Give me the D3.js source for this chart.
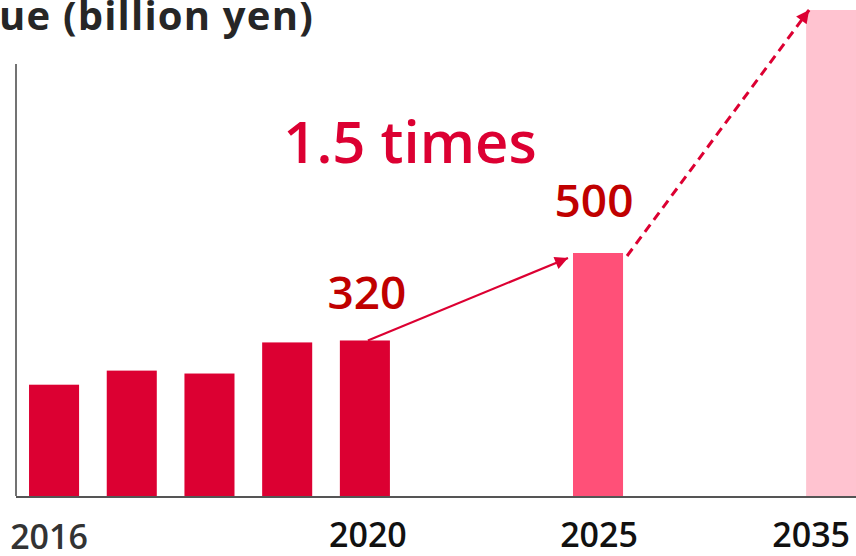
<!DOCTYPE html>
<html>
<head>
<meta charset="utf-8">
<script src="https://cdn.jsdelivr.net/npm/d3@7"></script>
<style>
  html, body { margin: 0; padding: 0; background: #fff; overflow: hidden; }
  svg { display: block; }
</style>
</head>
<body>
<script>
// ---- data ----
const categories = ["2016", "2017", "2018", "2019", "2020", "2025", "2035"];
const values = [229, 258, 252, 316, 320, 500, 1000];
const barColors = ["#DC0032", "#DC0032", "#DC0032", "#DC0032", "#DC0032", "#FF5078", "#FFC3D0"];
const tickLabels = ["2016", "2020", "2025", "2035"];
const valueLabelYears = ["2020", "2025"];
const valueLabelTexts = ["320", "500"];
const titleText = "ue (billion yen)";
const growthText = "1.5 times";

// ---- layout ----
const W = 856, H = 556;
const slots = ["2016", "2017", "2018", "2019", "2020", "_a", "_b", "2025", "_c", "_d", "2035"];

const svg = d3.select("body").append("svg").attr("width", W).attr("height", H);

const x = d3.scaleBand().domain(slots).range([15.2, 870]).paddingInner(0.356).paddingOuter(0.178);
const y = d3.scaleLinear().domain([0, 1000]).range([496, 10]);
const bw = x.bandwidth();

const FONT = "'Open Sans', 'Noto Sans', sans-serif";

// title
svg.append("text")
  .attr("x", -1).attr("y", 30)
  .attr("font-family", FONT).attr("font-weight", 700).attr("font-size", 40)
  .attr("letter-spacing", 1.2)
  .attr("fill", "#262626")
  .text(titleText);

// bars
svg.append("g").selectAll("rect")
  .data(categories.map((c, i) => ({ c, v: values[i], col: barColors[i] })))
  .join("rect")
  .attr("x", d => x(d.c))
  .attr("y", d => y(d.v))
  .attr("width", bw)
  .attr("height", d => y(0) - y(d.v))
  .attr("fill", d => d.col);

// axes lines
svg.append("line")
  .attr("x1", 16).attr("x2", 16)
  .attr("y1", y(0)).attr("y2", 64)
  .attr("stroke", "#444").attr("stroke-width", 1.5);
svg.append("line")
  .attr("x1", 16).attr("x2", W)
  .attr("y1", y(0) + 1).attr("y2", y(0) + 1)
  .attr("stroke", "#555").attr("stroke-width", 2);

// tick labels
const tickShift = { "2016": -5, "2020": 3, "2025": 1, "2035": -20 };
svg.append("g").selectAll("text")
  .data(tickLabels)
  .join("text")
  .attr("x", d => x(d) + bw / 2 + tickShift[d])
  .attr("y", d => d === "2016" ? 549 : 547)
  .attr("text-anchor", "middle")
  .attr("font-family", FONT).attr("font-weight", 600).attr("font-size", 34)
  .attr("fill", d => d === "2016" ? "#333" : "#111")
  .text(d => d);

// value labels
const vOff = { "2020": [2, -31.5], "2025": [-4, -36.5] };
svg.append("g").selectAll("text")
  .data(valueLabelYears.map((yr, i) => ({ yr, t: valueLabelTexts[i], v: values[categories.indexOf(yr)] })))
  .join("text")
  .attr("x", d => x(d.yr) + bw / 2 + vOff[d.yr][0])
  .attr("y", d => y(d.v) + vOff[d.yr][1])
  .attr("text-anchor", "middle")
  .attr("font-family", FONT).attr("font-weight", 600).attr("font-size", 46)
  .attr("fill", "#C00000")
  .text(d => d.t);

// growth label
svg.append("text")
  .attr("x", 410).attr("y", 163)
  .attr("text-anchor", "middle")
  .attr("font-family", FONT).attr("font-weight", 600).attr("font-size", 58)
  .attr("fill", "#DC0032")
  .text(growthText);

// arrows
const defs = svg.append("defs");
defs.append("marker")
  .attr("id", "ah").attr("viewBox", "0 0 10 10")
  .attr("refX", 10).attr("refY", 5)
  .attr("markerUnits", "userSpaceOnUse")
  .attr("markerWidth", 16).attr("markerHeight", 13)
  .attr("orient", "auto")
  .append("path").attr("d", "M0,0 L10,5 L0,10 Z").attr("fill", "#DC0032");

const v2020 = values[categories.indexOf("2020")];
const v2025 = values[categories.indexOf("2025")];
const v2035 = values[categories.indexOf("2035")];

svg.append("line")
  .attr("x1", x("2020") + bw / 2 + 3).attr("y1", y(v2020))
  .attr("x2", x("2025") - 5).attr("y2", y(v2025) + 5)
  .attr("stroke", "#DC0032").attr("stroke-width", 2.2)
  .attr("marker-end", "url(#ah)");

svg.append("line")
  .attr("x1", x("2025") + bw + 4).attr("y1", y(v2025) + 3)
  .attr("x2", x("2035") + 3).attr("y2", y(v2035))
  .attr("stroke", "#DC0032").attr("stroke-width", 3)
  .attr("stroke-dasharray", "9,6")
  .attr("marker-end", "url(#ah)");
</script>
</body>
</html>
